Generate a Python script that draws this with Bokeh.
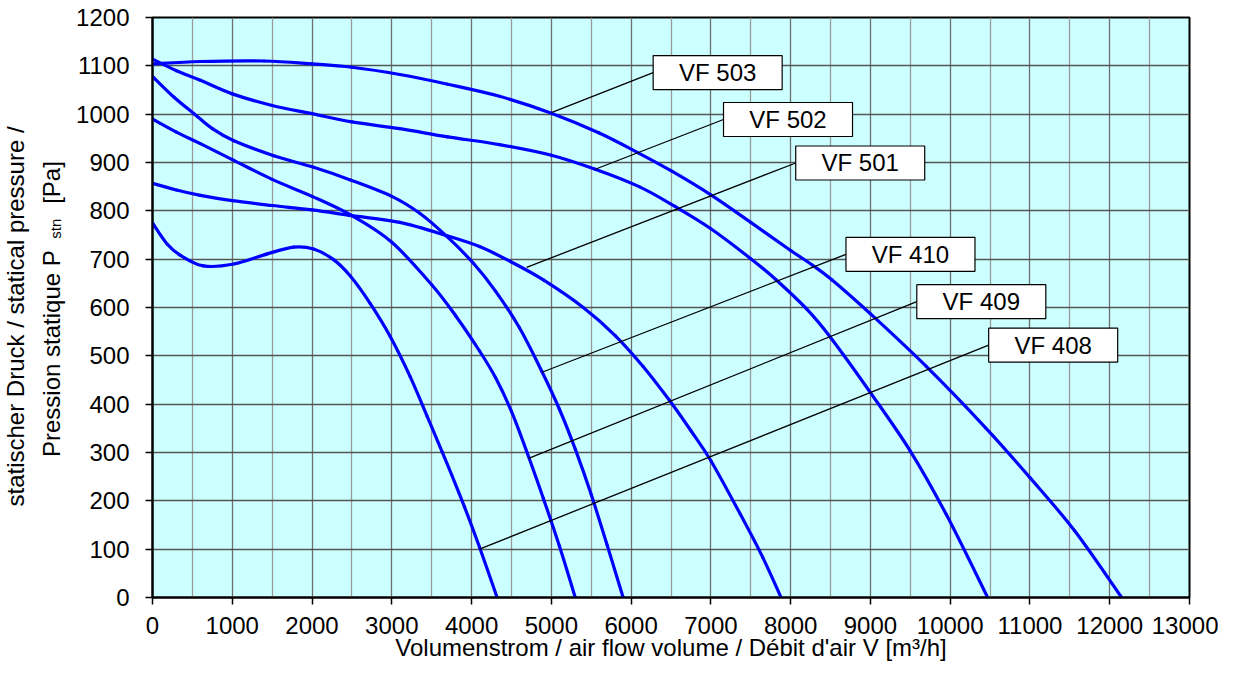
import math
from bokeh.plotting import figure
from bokeh.layouts import row
from bokeh.models import Range1d, FixedTicker
from bokeh.core.properties import value
from bokeh.embed import file_html
from bokeh.resources import INLINE

# ---------------- data ----------------
v_408 = [0, 180, 350, 640, 1020, 1440, 1770, 2020, 2270, 2480, 2730, 2980, 3230, 3440, 3630, 3750, 3910, 4100, 4320]
p_408 = [775, 732, 708, 686, 690, 711, 725, 721, 699, 665, 608, 540, 457, 376, 302, 254, 188, 104, 0]

v_409 = [0, 300, 600, 1000, 1500, 2000, 2500, 3000, 3500, 3800, 4100, 4300, 4500, 4700, 4900, 5100, 5300]
p_409 = [990, 963, 939, 906, 865, 830, 790, 735, 647, 583, 510, 455, 385, 298, 205, 107, 0]

v_410 = [0, 270, 520, 750, 1020, 1520, 2020, 2480, 3000, 3350, 3690, 4020, 4300, 4600, 4880, 5100, 5300, 5500, 5700, 5900]
p_410 = [1078, 1035, 1001, 970, 945, 914, 890, 864, 830, 795, 747, 692, 634, 558, 468, 390, 307, 213, 108, 0]

v_501 = [0, 300, 600, 1000, 1500, 2000, 2500, 3100, 3700, 4100, 4500, 4900, 5400, 5800, 6150, 6480, 6750, 7000, 7370, 7650, 7880]
p_501 = [857, 843, 832, 821, 811, 802, 790, 776, 748, 726, 694, 657, 600, 542, 478, 408, 345, 283, 172, 83, 0]

v_502 = [0, 300, 600, 1000, 1500, 2000, 2500, 3100, 3700, 4350, 5000, 5550, 6100, 6550, 7000, 7500, 7820, 8200, 8500, 9000, 9500, 9950, 10470]
p_502 = [1114, 1090, 1070, 1042, 1018, 1001, 984, 970, 953, 937, 915, 886, 850, 809, 763, 701, 657, 597, 538, 424, 303, 172, 0]

v_503 = [0, 600, 1400, 2000, 2500, 3100, 3700, 4350, 5000, 5600, 6100, 6500, 7000, 7500, 8000, 8270, 8520, 9000, 9700, 10450, 11000, 11560, 12150]
p_503 = [1104, 1109, 1110, 1104, 1097, 1082, 1062, 1037, 1002, 961, 919, 883, 833, 776, 718, 688, 657, 587, 478, 350, 248, 138, 0]

curve_v = [v_408, v_409, v_410, v_501, v_502, v_503]
curve_p = [p_408, p_409, p_410, p_501, p_502, p_503]

label_names = ["VF 408", "VF 409", "VF 410", "VF 501", "VF 502", "VF 503"]
label_v = [11291, 10390, 9502, 8872, 7967, 7085]      # box centres
label_p = [522, 612, 710, 899, 989, 1086]
leader_v = [4100, 4715, 4883, 4690, 5550, 5000]       # points on curves
leader_p = [100, 288, 466, 683, 886, 1003]

x_ticks = list(range(0, 13001, 1000))
x_minor = list(range(500, 13000, 1000))
y_ticks = list(range(0, 1201, 100))

x_title = "Volumenstrom / air flow volume / Débit d'air V [m³/h]"
y_title_1 = "statischer Druck / statical pressure /"
y_title_2a = "Pression statique P"
y_title_2b = "stn"
y_title_2c = "[Pa]"

# ---------------- layout constants ----------------
FONT = "Liberation Sans"
FW, FH = 1037, 580
XMAX, YMAX = 13000, 1200
LW = 70                # width of the y-title strip
TOP, BOTTOM = 17, 64
H = TOP + FH + BOTTOM  # 661

# ---------------- main figure ----------------
p = figure(frame_width=FW, frame_height=FH,
           x_range=Range1d(0, XMAX), y_range=Range1d(0, YMAX),
           min_border_left=152 - LW, min_border_right=29, min_border_top=TOP, min_border_bottom=BOTTOM,
           output_backend="svg", toolbar_location=None)
p.background_fill_color = "#CCFFFF"
p.border_fill_color = "white"
p.outline_line_color = "black"
p.outline_line_width = 2

p.xaxis.ticker = FixedTicker(ticks=x_ticks, minor_ticks=x_minor)
p.yaxis.ticker = FixedTicker(ticks=y_ticks)
for ax in (p.xaxis[0], p.yaxis[0]):
    ax.axis_line_color = "black"
    ax.axis_line_width = 2
    ax.major_tick_in = 0
    ax.major_tick_out = 7
    ax.major_tick_line_color = "black"
    ax.major_tick_line_width = 1.5
    ax.minor_tick_line_color = None
    ax.major_label_text_font = FONT
    ax.major_label_text_font_size = "24px"
    ax.major_label_text_color = "black"
p.xaxis.major_label_standoff = 12
p.yaxis.major_label_standoff = 16

p.xaxis.axis_label = x_title
p.xaxis.axis_label_text_font = FONT
p.xaxis.axis_label_text_font_size = "24px"
p.xaxis.axis_label_text_font_style = "normal"
p.xaxis.axis_label_text_color = "black"
p.xaxis.axis_label_standoff = -3

p.xgrid.grid_line_color = "#6e6e6e"
p.xgrid.grid_line_width = 1.3
p.xgrid.minor_grid_line_color = "#9a9a9a"
p.xgrid.minor_grid_line_width = 1.3
p.ygrid.grid_line_color = "#555555"
p.ygrid.grid_line_width = 1.3

# smooth curves: Catmull-Rom segments drawn as cubic Bezier glyphs through the read points
for vs, ps in zip(curve_v, curve_p):
    n = len(vs)
    x0, y0, x1, y1, cx0, cy0, cx1, cy1 = [], [], [], [], [], [], [], []
    for i in range(n - 1):
        a = max(i - 1, 0)
        d = min(i + 2, n - 1)
        x0.append(vs[i]); y0.append(ps[i])
        x1.append(vs[i + 1]); y1.append(ps[i + 1])
        cx0.append(vs[i] + (vs[i + 1] - vs[a]) / 6.0)
        cy0.append(ps[i] + (ps[i + 1] - ps[a]) / 6.0)
        cx1.append(vs[i + 1] - (vs[d] - vs[i]) / 6.0)
        cy1.append(ps[i + 1] - (ps[d] - ps[i]) / 6.0)
    p.bezier(x0=x0, y0=y0, x1=x1, y1=y1, cx0=cx0, cy0=cy0, cx1=cx1, cy1=cy1,
             line_color="#0000FF", line_width=3.2, line_cap="round")

# leaders + boxes
BOX_W, BOX_H = 129, 34
half_w = (BOX_W / 2) * XMAX / FW
p.segment(x0=leader_v, y0=leader_p, x1=[v - half_w for v in label_v], y1=label_p,
          line_color="black", line_width=1.3)
p.rect(x=label_v, y=label_p, width=BOX_W, height=BOX_H, width_units="screen", height_units="screen",
       fill_color="white", line_color="black", line_width=1.2)
p.text(x=label_v, y=label_p, text=label_names, text_align="center", text_baseline="middle",
       text_font=value(FONT), text_font_size="24px", text_color="black")

# ---------------- y-title strip (its frame is aligned with the main frame: page y 17..597) ----------------
t = figure(width=LW, height=H, x_range=Range1d(0, LW), y_range=Range1d(0, FH),
           x_axis_location=None, y_axis_location=None, min_border=0,
           output_backend="svg", toolbar_location=None)
t.outline_line_color = None
t.background_fill_color = "white"
t.border_fill_color = "white"
t.grid.visible = False
rot = math.pi / 2
FB = TOP + FH  # page y of frame bottom
def ytxt(s, px, py, size, align):
    t.text(x=[px], y=[FB - py], text=[s], angle=rot, text_align=align, text_baseline="alphabetic",
           text_font=value(FONT), text_font_size=size, text_color="black")

ytxt(y_title_1, 15, 317, "24px", "center")
ytxt(y_title_2a, 51, 458, "24px", "left")
ytxt(y_title_2b, 55, 239, "15px", "left")
ytxt(y_title_2c, 51, 204, "24px", "left")

layout = row(t, p)
open("out.html", "w").write(file_html(layout, INLINE))
